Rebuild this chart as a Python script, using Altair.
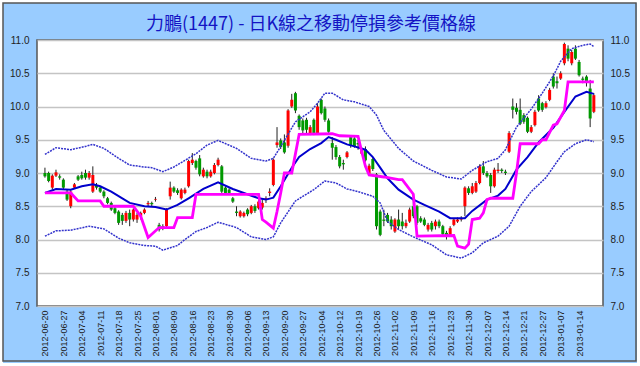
import altair as alt
import pandas as pd

title_text = "力鵬(1447) - 日K線之移動停損參考價格線"

tick_labels = [
    "2012-06-20", "2012-06-27", "2012-07-04", "2012-07-11", "2012-07-18",
    "2012-07-25", "2012-08-01", "2012-08-09", "2012-08-16", "2012-08-23",
    "2012-08-30", "2012-09-06", "2012-09-13", "2012-09-20", "2012-09-27",
    "2012-10-04", "2012-10-12", "2012-10-19", "2012-10-26", "2012-11-02",
    "2012-11-09", "2012-11-16", "2012-11-23", "2012-11-30", "2012-12-07",
    "2012-12-14", "2012-12-21", "2012-12-27", "2013-01-07", "2013-01-14",
]

# daily candles (trading-day index 0..149)
opens = [
    9.00, 9.00, 8.78, 8.96, 8.95, 8.90, 8.72, 8.50, 8.78, 8.95,
    8.97, 9.00, 8.93, 8.72, 8.82, 8.78, 8.72, 8.62, 8.55, 8.47,
    8.42, 8.37, 8.28, 8.40, 8.30, 8.30, 8.35, 8.40, 8.53, 8.55,
    8.60, 8.22, 8.20, 8.20, 8.65, 8.78, 8.74, 8.62, 8.70, 8.80,
    9.15, 9.18, 9.22, 8.95, 9.02, 8.95, 9.00, 9.12, 9.10, 8.78,
    8.75, 8.62, 8.42, 8.35, 8.35, 8.45, 8.40, 8.50, 8.47, 8.48,
    8.60, 8.70, 8.82, 9.42, 9.49, 9.46, 9.41, 10.00, 10.20, 9.86,
    9.79, 9.80, 9.59, 9.80, 9.60, 10.10, 9.97, 9.79, 9.45, 9.39,
    9.24, 9.15, 9.24, 9.54, 9.52, 9.45, 9.29, 9.36, 8.99, 9.21,
    8.98, 8.42, 8.30, 8.37, 8.30, 8.12, 8.30, 8.27, 8.20, 8.27,
    8.50, 8.50, 8.32, 8.30, 8.15, 8.25, 8.20, 8.27, 8.20, 8.10,
    8.07, 8.22, 8.27, 8.30, 8.50, 8.77, 8.70, 8.72, 8.85, 9.10,
    9.00, 8.97, 8.80, 9.03, 9.05, 9.02, 9.32, 10.00, 9.98, 9.95,
    9.87, 9.83, 9.62, 9.72, 10.12, 10.05, 9.99, 10.10, 10.45, 10.38,
    10.42, 10.65, 10.87, 10.65, 10.87, 10.67, 10.42, 10.45, 10.27, 9.92,
]
highs = [
    9.08, 9.02, 8.98, 9.05, 8.98, 8.92, 8.75, 8.74, 8.85, 8.97,
    9.02, 9.05, 9.03, 9.10, 8.85, 8.80, 8.74, 8.64, 8.57, 8.50,
    8.44, 8.40, 8.43, 8.45, 8.47, 8.40, 8.42, 8.47, 8.58, 8.57,
    8.64, 8.25, 8.23, 8.47, 8.87, 8.80, 8.77, 8.77, 8.78, 9.20,
    9.30, 9.20, 9.27, 9.08, 9.05, 9.05, 9.15, 9.23, 9.12, 8.80,
    8.77, 8.64, 8.50, 8.44, 8.42, 8.47, 8.52, 8.53, 8.60, 8.60,
    8.65, 8.77, 9.22, 9.69, 9.52, 9.58, 9.96, 10.19, 10.22, 9.88,
    9.82, 9.83, 9.72, 9.82, 10.05, 10.12, 10.00, 9.82, 9.54, 9.42,
    9.27, 9.20, 9.33, 9.57, 9.55, 9.50, 9.38, 9.40, 9.14, 9.24,
    9.00, 8.45, 8.45, 8.40, 8.35, 8.32, 8.45, 8.40, 8.30, 8.48,
    8.60, 8.52, 8.35, 8.33, 8.25, 8.28, 8.30, 8.30, 8.22, 8.13,
    8.20, 8.32, 8.33, 8.35, 8.80, 8.80, 8.85, 8.88, 9.13, 9.18,
    9.03, 9.00, 9.08, 9.15, 9.07, 9.05, 9.63, 10.12, 10.05, 10.12,
    9.90, 9.85, 9.72, 9.95, 10.17, 10.07, 10.08, 10.28, 10.50, 10.45,
    10.53, 10.96, 10.92, 10.85, 10.92, 10.70, 10.45, 10.47, 10.40, 10.20,
]
lows = [
    8.93, 8.86, 8.75, 8.94, 8.90, 8.76, 8.58, 8.47, 8.76, 8.88,
    8.90, 8.90, 8.90, 8.70, 8.75, 8.70, 8.62, 8.53, 8.43, 8.38,
    8.22, 8.22, 8.25, 8.20, 8.27, 8.25, 8.30, 8.38, 8.50, 8.50,
    8.57, 8.12, 8.14, 8.17, 8.60, 8.70, 8.67, 8.60, 8.68, 8.78,
    9.12, 9.05, 8.95, 8.93, 8.92, 8.93, 8.98, 9.10, 8.70, 8.67,
    8.68, 8.55, 8.35, 8.33, 8.33, 8.35, 8.38, 8.40, 8.45, 8.45,
    8.55, 8.65, 8.80, 9.38, 9.36, 9.29, 9.38, 9.98, 9.90, 9.65,
    9.60, 9.60, 9.57, 9.57, 9.58, 9.88, 9.77, 9.60, 9.20, 9.20,
    9.07, 9.05, 9.22, 9.38, 9.38, 9.35, 9.27, 9.17, 8.97, 9.03,
    8.15, 8.05, 8.20, 8.25, 8.15, 8.10, 8.15, 8.15, 8.17, 8.25,
    8.32, 8.22, 8.25, 8.20, 8.12, 8.12, 8.15, 8.17, 8.05, 8.00,
    8.05, 8.20, 8.25, 8.27, 8.35, 8.67, 8.68, 8.70, 8.83, 8.97,
    8.93, 8.70, 8.78, 9.00, 9.00, 8.97, 9.30, 9.82, 9.88, 9.72,
    9.74, 9.60, 9.60, 9.70, 9.92, 9.92, 9.97, 10.08, 10.27, 10.27,
    10.40, 10.62, 10.68, 10.62, 10.70, 10.45, 10.35, 10.30, 9.69, 9.90,
]
closes = [
    8.95, 8.88, 8.96, 9.01, 8.93, 8.78, 8.60, 8.72, 8.83, 8.90,
    8.92, 8.93, 9.00, 8.97, 8.78, 8.72, 8.65, 8.55, 8.45, 8.40,
    8.25, 8.28, 8.40, 8.30, 8.45, 8.37, 8.40, 8.45, 8.55, 8.53,
    8.61, 8.15, 8.17, 8.45, 8.78, 8.72, 8.70, 8.75, 8.75, 9.18,
    9.20, 9.08, 8.98, 9.05, 8.95, 9.02, 9.12, 9.20, 8.72, 8.70,
    8.70, 8.57, 8.40, 8.42, 8.40, 8.38, 8.50, 8.43, 8.57, 8.55,
    8.62, 8.72, 9.20, 9.46, 9.39, 9.31, 9.94, 10.10, 9.94, 9.69,
    9.64, 9.65, 9.69, 9.60, 10.00, 9.90, 9.80, 9.62, 9.38, 9.24,
    9.10, 9.13, 9.31, 9.41, 9.40, 9.43, 9.36, 9.19, 9.11, 9.06,
    8.20, 8.07, 8.28, 8.27, 8.20, 8.30, 8.20, 8.20, 8.25, 8.45,
    8.35, 8.25, 8.27, 8.22, 8.22, 8.15, 8.27, 8.20, 8.08, 8.05,
    8.17, 8.30, 8.30, 8.31, 8.78, 8.70, 8.80, 8.85, 9.10, 9.00,
    8.95, 8.80, 9.05, 9.05, 9.03, 9.00, 9.60, 9.95, 9.92, 9.74,
    9.77, 9.62, 9.69, 9.92, 9.94, 9.95, 10.05, 10.25, 10.30, 10.35,
    10.50, 10.94, 10.72, 10.82, 10.72, 10.47, 10.40, 10.37, 9.82, 10.17,
]

# moving average (solid blue)
ma_x = [0, 3, 7, 10, 13, 15, 18, 21, 23, 27, 30, 33, 36, 39, 43, 47, 51, 54, 58,
        60, 62, 64, 67, 69, 72, 75, 77, 79, 82, 84, 87, 89, 91, 93, 96, 100, 103,
        107, 110, 114, 116, 120, 123, 125, 128, 131, 134, 138, 141, 144, 147, 149]
ma_y = [8.70, 8.76, 8.75, 8.80, 8.83, 8.80, 8.72, 8.62, 8.55, 8.50, 8.49, 8.45,
        8.52, 8.62, 8.76, 8.86, 8.76, 8.70, 8.62, 8.60, 8.63, 8.80, 9.08, 9.24,
        9.36, 9.45, 9.54, 9.50, 9.43, 9.40, 9.35, 9.24, 9.08, 8.92, 8.75, 8.60,
        8.52, 8.42, 8.32, 8.32, 8.43, 8.60, 8.66, 8.76, 9.05, 9.24, 9.46, 9.68,
        9.92, 10.15, 10.22, 10.19]

# upper band (dotted blue)
up_x = [0, 3, 7, 11, 13, 16, 20, 23, 27, 29, 32, 35, 38, 41, 44, 47, 52, 56, 60,
        62, 65, 68, 72, 74, 76, 78, 81, 84, 88, 90, 92, 96, 100, 105, 109, 113,
        116, 120, 123, 125, 128, 132, 135, 138, 140, 143, 146, 148, 149]
up_y = [9.28, 9.38, 9.35, 9.40, 9.43, 9.37, 9.22, 9.12, 9.09, 9.08, 9.02, 9.09,
        9.19, 9.29, 9.42, 9.49, 9.37, 9.22, 9.18, 9.22, 9.49, 9.77, 9.92, 10.05,
        10.20, 10.20, 10.10, 10.07, 10.00, 9.87, 9.64, 9.37, 9.18, 9.04, 8.94,
        8.91, 9.04, 9.17, 9.22, 9.35, 9.69, 9.96, 10.20, 10.46, 10.68, 10.87,
        10.92, 10.94, 10.90]

# lower band (dotted blue)
lo_x = [0, 3, 7, 12, 16, 20, 23, 27, 30, 32, 36, 38, 41, 44, 47, 52, 56, 60, 62,
        64, 68, 73, 76, 79, 82, 85, 89, 91, 93, 96, 100, 105, 109, 113, 116, 119,
        123, 126, 129, 132, 136, 139, 141, 144, 147, 149]
lo_y = [8.05, 8.13, 8.14, 8.20, 8.16, 8.02, 7.95, 7.91, 7.90, 7.84, 7.91, 8.00,
        8.12, 8.18, 8.26, 8.18, 8.04, 8.00, 8.04, 8.25, 8.58, 8.75, 8.88, 8.85,
        8.76, 8.72, 8.65, 8.55, 8.27, 8.15, 8.04, 7.92, 7.77, 7.72, 7.80, 7.95,
        8.05, 8.20, 8.50, 8.72, 8.93, 9.17, 9.32, 9.44, 9.50, 9.47]

# trailing stop reference line (magenta)
stop_x = [0, 7, 9, 15, 16, 24, 26, 28, 31, 35, 36, 40, 41, 58, 59, 60, 62, 63,
          64, 65, 67, 69, 78, 80, 85, 86, 87, 88, 92, 96, 97, 100, 101, 111, 112,
          114, 115, 116, 118, 119, 120, 121, 127, 128, 129, 134, 135, 136, 138,
          139, 141, 142, 149]
stop_y = [8.70, 8.70, 8.58, 8.58, 8.50, 8.50, 8.35, 8.03, 8.18, 8.18, 8.33, 8.33,
          8.68, 8.68, 8.30, 8.26, 8.17, 8.42, 8.70, 9.00, 9.00, 9.58, 9.59, 9.56,
          9.55, 9.32, 9.10, 8.97, 8.94, 8.90, 8.90, 8.68, 8.05, 8.06, 7.90, 7.87,
          7.93, 8.30, 8.32, 8.40, 8.60, 8.62, 8.62, 9.00, 9.44, 9.44, 9.50, 9.50,
          9.72, 9.74, 9.94, 10.37, 10.37]

candles = pd.DataFrame({
    "i": list(range(len(opens))),
    "open": opens, "high": highs, "low": lows, "close": closes,
})

def line_df(xs, ys):
    return pd.DataFrame({"i": xs, "v": ys})

W, H = 566, 266
xscale = alt.Scale(domain=[-0.8, 150.13], nice=False, zero=False)
yscale = alt.Scale(domain=[7, 11], nice=False, zero=False)

label_expr = "[" + ",".join("'%s'" % d for d in tick_labels) + "][round(datum.value/5)]"
x_axis = alt.Axis(
    values=[5 * k for k in range(len(tick_labels))], labelExpr=label_expr,
    labelAngle=270, labelAlign="right", labelBaseline="middle",
    labelFont="Liberation Sans", labelFontSize=9, labelColor="#222222",
    labelPadding=4, labelOverlap=False, labelFlush=False,
    ticks=False, grid=False, domain=False, title=None,
)
X = alt.X("i:Q", scale=xscale, axis=x_axis)

y_vals = [7.0, 7.5, 8.0, 8.5, 9.0, 9.5, 10.0, 10.5, 11.0]
left_axis = alt.Axis(
    values=y_vals, format=".1f", labelFont="Liberation Sans", labelFontSize=10,
    labelColor="#222222", labelPadding=8, labelFlush=False, ticks=False,
    domain=False, grid=True, gridColor="#C4C4C4", gridWidth=1.5, title=None,
)
right_axis = alt.Axis(
    values=y_vals, format=".1f", orient="right", labelFont="Liberation Sans",
    labelFontSize=10, labelColor="#222222", labelPadding=7, labelFlush=False,
    ticks=False, domain=False, grid=False, title=None,
)

one = alt.Data(values=[{"k": 1}])
outer_white = alt.Chart(one).mark_rect(
    fill="white", fillOpacity=0, stroke="white", strokeWidth=6
).encode(x=alt.value(-37), x2=alt.value(W + 37), y=alt.value(-40), y2=alt.value(H + 60))
frame = alt.Chart(one).mark_rect(
    fill="white", fillOpacity=0, stroke="#555555", strokeWidth=1.5
).encode(x=alt.value(-34), x2=alt.value(W + 33), y=alt.value(-37), y2=alt.value(H + 55))
title = alt.Chart(alt.Data(values=[{"t": title_text}])).mark_text(
    font="Noto Sans CJK TC", fontSize=18, color="#1414C4",
    align="center", baseline="alphabetic",
).encode(x=alt.value(W / 2 - 9), y=alt.value(-10), text="t:N")

up_color = alt.condition("datum.close >= datum.open", alt.value("#FF0000"), alt.value("#009900"))

wicks = alt.Chart(candles).mark_rule(color="#222222", strokeWidth=1).encode(
    x=X,
    y=alt.Y("low:Q", scale=yscale, axis=left_axis),
    y2="high:Q",
)
bodies = alt.Chart(candles).mark_bar(size=3).encode(
    x=X,
    y=alt.Y("open:Q", scale=yscale, axis=right_axis),
    y2="close:Q",
    color=up_color,
)

def line_layer(xs, ys, **kw):
    return alt.Chart(line_df(xs, ys)).mark_line(**kw).encode(
        x=X, y=alt.Y("v:Q", scale=yscale, axis=None)
    )

upper = line_layer(up_x, up_y, color="#3333CC", strokeWidth=1.5, strokeDash=[2, 1])
lower = line_layer(lo_x, lo_y, color="#3333CC", strokeWidth=1.5, strokeDash=[2, 1])
ma = line_layer(ma_x, ma_y, color="#0000CC", strokeWidth=2)
stop = line_layer(stop_x, stop_y, color="#FF00FF", strokeWidth=2.8)

chart = alt.layer(
    outer_white, frame, title, wicks, bodies, upper, lower, ma, stop
).resolve_axis(
    y="independent"
).properties(
    width=W, height=H,
    padding={"left": 37, "top": 40, "right": 37, "bottom": 60},
    autosize=alt.AutoSizeParams(type="none"),
).configure(background="#99CCFF").configure_view(
    fill="white", stroke="#555555", strokeWidth=1.5
)

chart.save("out.html", embed_options={"renderer": "svg", "actions": False})
